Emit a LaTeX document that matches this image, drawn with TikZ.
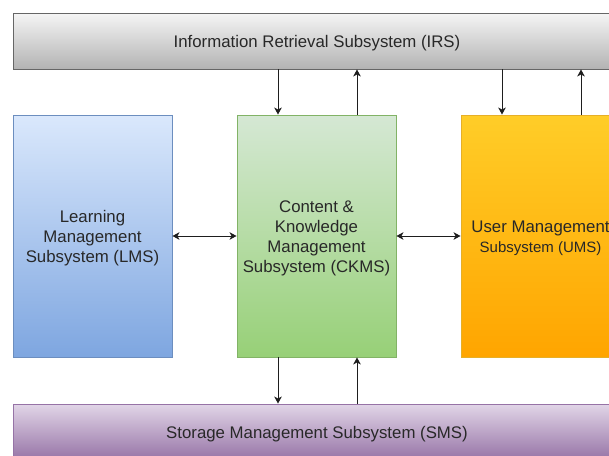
\documentclass[tikz,border=0pt]{standalone}
\usepackage{fontspec}
\setmainfont{Liberation Sans}
\usetikzlibrary{arrows.meta}
\definecolor{txt}{RGB}{40,40,40}
\definecolor{lnc}{RGB}{30,30,30}
\begin{document}
\begin{tikzpicture}[x=1pt,y=-1pt,
  box/.style={draw, line width=0.9pt, rectangle, inner sep=0pt},
  lbl/.style={align=center, inner sep=0pt, text=txt, font=\fontsize{16.8}{20}\selectfont},
  tip/.style={Stealth[length=7pt,width=7.5pt,inset=2pt]},
  arr/.style={draw=lnc, line width=1pt, -{Stealth[length=7pt,width=7.5pt,inset=2pt]}},
  arrb/.style={draw=lnc, line width=1pt, {Stealth[length=7pt,width=7.5pt,inset=2pt]}-{Stealth[length=7pt,width=7.5pt,inset=2pt]}}]
\useasboundingbox (0,0) rectangle (609,455);
\clip (0,0) rectangle (609,455);
\fill[white] (0,0) rectangle (609,455);

% top and bottom bars
\node[box, draw={rgb,255:red,102;green,102;blue,102},
  top color={rgb,255:red,245;green,245;blue,245}, bottom color={rgb,255:red,179;green,179;blue,179},
  minimum width=608pt, minimum height=56pt] (irs) at (317,41) {};
\node[box, draw={rgb,255:red,150;green,115;blue,166},
  top color={rgb,255:red,225;green,213;blue,231}, bottom color={rgb,255:red,150;green,115;blue,166},
  minimum width=608pt, minimum height=56pt] (sms) at (317,432) {};

% subsystem blocks
\node[box, draw={rgb,255:red,108;green,142;blue,191},
  top color={rgb,255:red,218;green,232;blue,252}, bottom color={rgb,255:red,126;green,166;blue,224},
  minimum width=159pt, minimum height=242pt] (lms) at (92.5,236) {};
\node[box, draw={rgb,255:red,130;green,179;blue,102},
  top color={rgb,255:red,213;green,232;blue,212}, bottom color={rgb,255:red,151;green,208;blue,119},
  minimum width=159pt, minimum height=242pt] (ckms) at (316.5,236) {};
\node[box, draw={rgb,255:red,230;green,175;blue,40},
  top color={rgb,255:red,255;green,205;blue,40}, bottom color={rgb,255:red,255;green,165;blue,0},
  minimum width=159pt, minimum height=242pt] (ums) at (540.5,236) {};

% labels
\node[lbl] (irst) at ([yshift=-2pt]irs.center) {Information Retrieval Subsystem (IRS)};
\node[lbl] (smst) at ([yshift=-2pt]sms.center) {Storage Management Subsystem (SMS)};
\node[lbl] (lmst) at ([yshift=-2.5pt]lms.center) {Learning\\Management\\Subsystem (LMS)};
\node[lbl] (ckmst) at ([yshift=-2.5pt]ckms.center) {Content \&\\Knowledge\\Management\\Subsystem (CKMS)};
\node[lbl] (umst) at ([yshift=-2.5pt]ums.center)
  {User Management\\{\fontsize{15}{18}\selectfont Subsystem (UMS)}};

% attachment points on the blocks
\coordinate (ckL) at ([xshift=-38.5pt]ckms.north);
\coordinate (ckR) at ([xshift=40.5pt]ckms.north);
\coordinate (ckLb) at ([xshift=-38.5pt]ckms.south);
\coordinate (ckRb) at ([xshift=40.5pt]ckms.south);
\coordinate (umL) at ([xshift=-38.5pt]ums.north);
\coordinate (umR) at ([xshift=40.5pt]ums.north);

% IRS <-> CKMS, IRS <-> UMS
\draw[arr] (irs.south -| ckL) -- (ckL);
\draw[arr] (ckR) -- (irs.south -| ckR);
\draw[arr] (irs.south -| umL) -- (umL);
\draw[arr] (umR) -- (irs.south -| umR);

% CKMS <-> SMS
\draw[arr] (ckLb) -- (sms.north -| ckLb);
\draw[arr] (sms.north -| ckRb) -- (ckRb);

% horizontal links
\draw[arrb] (lms.east) -- (ckms.west);
\draw[arrb] (ckms.east) -- (ums.west);
\end{tikzpicture}
\end{document}
